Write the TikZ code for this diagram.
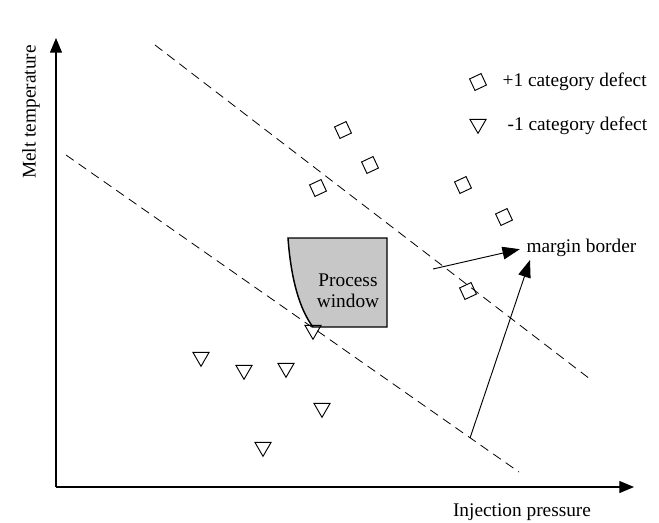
\documentclass[tikz,border=0pt]{standalone}
\usepackage{fontspec}
\setmainfont{Liberation Serif}
\usetikzlibrary{positioning, shapes.geometric, arrows.meta}

\tikzset{
    plusdef/.style={draw, rectangle, minimum size=9.5pt, inner sep=0pt, rotate=25, line width=0.7pt},
    minusdef/.style={draw, regular polygon, regular polygon sides=3, shape border rotate=180,
                     minimum size=14pt, inner sep=0pt, line width=0.7pt},
    border/.style={dashed, dash pattern=on 7pt off 4.5pt, line width=0.6pt},
    axis/.style={-{Triangle[length=11pt,width=9pt]}, line width=0.8pt},
    pointer/.style={-{Triangle[length=13pt,width=9.5pt]}, line width=0.7pt},
    label/.style={font=\fontsize{14.5}{16}\selectfont, inner sep=1pt}
}

\begin{document}
\begin{tikzpicture}[x=0.75pt, y=-0.75pt]
    \useasboundingbox (0,0) rectangle (659,522);

    % axes
    \coordinate (o) at (56,487);
    \coordinate (ytip) at (56,38);
    \coordinate (xtip) at (634,487);
    \draw[axis] (o) -- (ytip);
    \draw[axis] (o) -- (xtip);
    \node[label, rotate=90] (ylab) at (31,112) {Melt temperature};
    \node[label] (xlab) at (522,512) {Injection pressure};

    % margin borders
    \coordinate (up1) at (155,45);
    \coordinate (up2) at (590,379);
    \coordinate (lo1) at (66,155);
    \coordinate (lo2) at (519,472);
    \draw[border] (up1) -- (up2);
    \draw[border] (lo1) -- (lo2);

    % process window
    \draw[fill=black!22, line width=1.1pt] (288,238) -- (387,238) -- (387,327) -- (313,327)
        .. controls (300,310) and (291,280) .. cycle;
    \node[label, align=center] (pw) at (348,291) {Process\\window};

    % +1 category
    \node[plusdef] (p1) at (343,130) {};
    \node[plusdef] (p2) at (370,165) {};
    \node[plusdef] (p3) at (318,188) {};
    \node[plusdef] (p4) at (463,185) {};
    \node[plusdef] (p5) at (504,217) {};
    \node[plusdef] (p6) at (468,291) {};

    % -1 category
    \node[minusdef] (m1) at (201,357) {};
    \node[minusdef] (m2) at (244,370) {};
    \node[minusdef] (m3) at (286,368) {};
    \node[minusdef] (m4) at (322,408) {};
    \node[minusdef] (m5) at (263,447) {};
    \node[minusdef] (m6) at (313,330) {};

    % legend
    \node[plusdef] (lp) at (478,82) {};
    \node[label, anchor=west] (lptxt) at (501,82) {+1 category defect};
    \node[minusdef] (lm) at (478,124) {};
    \node[label, anchor=west] (lmtxt) at (506,126) {-1 category defect};

    % margin arrows
    \node[label, anchor=west] (mb) at (525,248) {margin border};
    \coordinate (a1) at (433,269);
    \coordinate (a2) at (470,438);
    \draw[pointer, shorten >=4pt] (a1) -- (mb.west);
    \draw[pointer] (a2) -- (530,260);
\end{tikzpicture}
\end{document}
